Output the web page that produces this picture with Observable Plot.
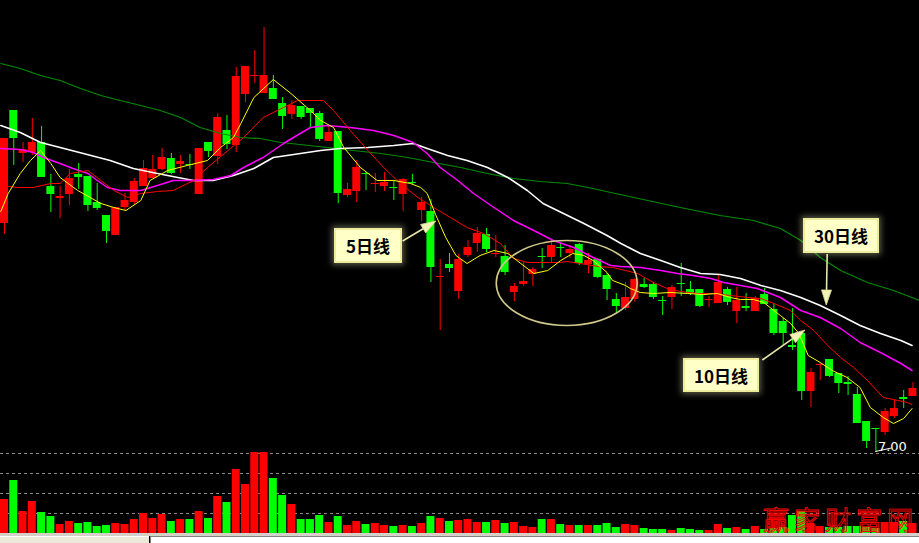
<!DOCTYPE html>
<html><head><meta charset="utf-8">
<script src="https://cdn.jsdelivr.net/npm/d3@7"></script>
<script src="https://cdn.jsdelivr.net/npm/@observablehq/plot@0.6"></script>
<style>
html,body{margin:0;padding:0;background:#000;}
#wrap{position:relative;width:919px;height:543px;background:#000;overflow:hidden;font-family:"Noto Sans CJK SC","Noto Sans",sans-serif;}
#price{position:absolute;left:0;top:0;}
#vol{position:absolute;left:0;top:452px;}
.note{position:absolute;background:#ffffc8;border:2px solid #ecec9c;box-shadow:0 0 6px 2px rgba(255,255,200,0.35);color:#000;font-weight:bold;font-size:17px;display:flex;align-items:center;justify-content:center;box-sizing:border-box;font-family:"Noto Sans CJK SC",sans-serif;}
#wm{position:absolute;left:763px;top:500px;font-size:26px;letter-spacing:5px;color:transparent;-webkit-text-stroke:0.9px #ff0000;font-family:"Noto Sans CJK SC",sans-serif;white-space:nowrap;}
</style></head>
<body>
<div id="wrap">
  <div id="price"></div>
  <div id="vol"></div>
  <div class="note" style="left:334px;top:228px;width:68px;height:35px;">5日线</div>
  <div class="note" style="left:683px;top:358px;width:76px;height:34px;">10日线</div>
  <div class="note" style="left:803px;top:218px;width:76px;height:35px;">30日线</div>
  <div id="wm">赢家财富网</div>
  <div style="position:absolute;left:0;top:533px;width:919px;height:3px;background:#d4d0c8"></div>
  <div style="position:absolute;left:0;top:536px;width:149px;height:7px;background:#ece9d8;border-top:1px solid #fff"></div>
  <div style="position:absolute;left:150px;top:536px;width:769px;height:7px;background:#fff;border-top:1px solid #808080;border-left:1px solid #808080"></div>
</div>
<script>
// ---- candle data (day index 0..98) ----
const open = [9.29,10.42,9.99,10.00,10.10,9.66,9.54,9.58,9.78,9.76,
 9.50,9.37,9.17,9.45,9.50,9.66,9.74,9.83,9.94,9.88,
 9.88,9.58,10.10,9.96,10.22,10.07,10.58,10.76,10.59,10.64,
 10.49,10.38,10.46,10.44,10.39,10.11,10.21,9.57,9.61,9.79,
 9.68,9.66,9.65,9.58,9.70,9.42,9.41,8.75,8.88,8.61,
 8.97,9.09,9.18,8.98,8.96,8.60,8.68,8.78,8.96,8.95,
 9.05,8.99,9.08,8.88,8.93,8.77,8.53,8.44,8.53,8.68,
 8.68,8.52,8.55,8.69,8.63,8.63,8.52,8.49,8.63,8.41,
 8.46,8.41,8.58,8.43,8.31,8.07,8.19,7.61,7.87,7.93,
 7.79,7.70,7.58,7.31,7.24,7.20,7.36,7.55,7.56];
const high = [10.14,10.42,10.10,10.34,10.26,9.78,9.66,9.83,9.89,9.76,
 9.69,9.37,9.45,9.59,9.74,9.92,9.97,10.04,9.99,9.97,
 9.98,10.04,10.10,10.39,10.37,10.85,10.86,11.02,11.25,10.77,
 10.55,10.52,10.46,10.44,10.41,10.27,10.21,9.69,9.92,9.80,
 9.79,9.80,9.72,9.74,9.78,9.55,9.53,8.93,8.99,8.98,
 9.12,9.25,9.24,9.17,9.07,8.69,8.90,8.85,9.04,9.13,
 9.09,9.07,9.09,8.99,8.94,8.79,8.59,8.70,8.74,8.74,
 8.70,8.56,8.67,8.89,8.71,8.63,8.56,8.77,8.65,8.65,
 8.59,8.56,8.64,8.49,8.34,8.44,8.19,7.84,7.89,7.93,
 7.79,7.76,7.65,7.31,7.24,7.44,7.53,7.62,7.70];
const low = [9.18,9.87,9.90,9.97,9.75,9.40,9.34,9.47,9.63,9.41,
 9.42,9.09,9.17,9.42,9.47,9.66,9.74,9.82,9.78,9.79,
 9.83,9.58,9.95,9.88,10.03,10.00,10.50,10.69,10.59,10.53,
 10.23,10.33,10.33,10.25,10.11,10.11,9.49,9.55,9.50,9.62,
 9.60,9.61,9.52,9.41,9.68,9.31,8.70,8.22,8.80,8.53,
 8.95,9.00,9.00,8.95,8.77,8.51,8.66,8.66,8.84,8.89,
 8.95,8.94,8.87,8.79,8.74,8.52,8.39,8.42,8.50,8.64,
 8.53,8.37,8.43,8.56,8.57,8.45,8.45,8.49,8.47,8.29,
 8.41,8.41,8.48,8.17,8.07,8.02,7.52,7.45,7.72,7.75,
 7.59,7.57,7.29,7.04,7.00,7.17,7.34,7.44,7.56];
const close = [10.14,10.14,10.03,10.10,9.75,9.58,9.56,9.74,9.75,9.47,
 9.44,9.21,9.45,9.52,9.71,9.84,9.83,9.95,9.79,9.91,
 9.87,10.04,10.01,10.35,10.08,10.76,10.86,10.77,10.77,10.53,
 10.36,10.47,10.35,10.39,10.13,10.20,9.59,9.63,9.85,9.78,
 9.69,9.70,9.64,9.73,9.69,9.50,8.85,8.76,8.84,8.93,
 9.05,9.19,9.03,8.99,8.80,8.66,8.71,8.83,8.95,9.07,
 9.04,9.03,8.89,8.92,8.75,8.63,8.46,8.55,8.73,8.65,
 8.55,8.51,8.65,8.68,8.59,8.46,8.53,8.70,8.50,8.52,
 8.44,8.54,8.48,8.19,8.19,8.05,7.61,7.80,7.88,7.76,
 7.69,7.68,7.29,7.11,7.23,7.41,7.44,7.53,7.64];
const volume = [102,159,66,96,63,51,27,36,30,33,
 21,24,30,27,42,60,45,57,36,42,
 42,66,45,111,93,192,147,243,243,165,
 114,87,42,42,54,33,51,24,36,27,
 30,24,21,24,21,30,51,45,36,39,
 42,33,33,39,30,33,21,18,42,42,
 27,24,24,24,24,30,18,27,24,15,
 12,12,9,15,12,9,9,27,15,18,
 12,21,12,15,18,54,66,30,21,18,
 18,21,21,18,15,33,33,36,30];
const volumeTicks = [60,120,180,240];

// ---- moving averages: [day, price] ----
const ma5 = [[-0.4,9.41],[0.4,9.59],[1.7,9.79],[2.8,9.92],[3.9,10.02],[5.0,9.89],[6.0,9.75],[7.9,9.62],[10.4,9.49],[11.8,9.45],[13.1,9.42],[14.7,9.52],[15.7,9.72],[17.6,9.82],[19.7,9.87],[21.9,9.92],[23.3,10.05],[24.7,10.15],[25.5,10.29],[26.9,10.55],[29.0,10.73],[30.9,10.59],[33.0,10.42],[34.1,10.32],[35.5,10.25],[36.6,10.05],[38.4,9.85],[40.2,9.72],[42.0,9.72],[43.8,9.69],[44.9,9.65],[45.6,9.59],[46.5,9.38],[47.6,9.15],[48.7,8.97],[49.9,8.89],[51.3,8.97],[52.8,9.02],[54.3,8.99],[55.7,8.89],[57.1,8.79],[58.6,8.82],[60.0,8.92],[61.3,8.99],[62.5,8.97],[63.5,8.92],[65.0,8.80],[65.6,8.72],[67.0,8.67],[67.5,8.64],[68.6,8.60],[70.0,8.59],[71.8,8.60],[73.7,8.59],[75.4,8.58],[76.9,8.59],[78.3,8.55],[79.4,8.53],[80.8,8.53],[81.9,8.50],[83.0,8.42],[83.7,8.37],[84.8,8.29],[85.7,8.19],[86.7,7.97],[88.0,7.90],[89.3,7.82],[90.9,7.75],[92.3,7.65],[93.4,7.45],[94.8,7.35],[95.9,7.29],[97.0,7.34],[97.9,7.44]];
const ma10 = [[-0.4,9.67],[1.4,9.65],[3.1,9.65],[5.0,9.69],[6.0,9.69],[7.1,9.79],[9.0,9.82],[10.4,9.72],[11.8,9.62],[13.3,9.55],[14.7,9.59],[16.5,9.61],[18.2,9.62],[20.4,9.72],[21.9,9.85],[24.1,10.02],[25.8,10.15],[27.9,10.35],[30.1,10.45],[31.6,10.52],[34.4,10.52],[35.5,10.42],[37.3,10.22],[39.2,10.02],[40.9,9.85],[42.7,9.69],[44.6,9.55],[46.3,9.45],[48.1,9.35],[49.9,9.25],[51.7,9.19],[53.5,9.09],[54.9,8.94],[56.4,8.90],[59.8,8.90],[60.7,8.91],[62.1,8.89],[64.1,8.86],[65.6,8.85],[67.0,8.82],[68.3,8.79],[70.0,8.70],[71.5,8.64],[72.9,8.61],[74.8,8.59],[76.5,8.59],[78.3,8.57],[80.2,8.55],[81.6,8.54],[83.0,8.49],[84.8,8.42],[85.9,8.32],[87.3,8.22],[88.8,8.07],[90.2,7.95],[91.6,7.85],[93.1,7.72],[94.8,7.55],[95.9,7.53],[97.4,7.50],[97.9,7.48]];
const ma20 = [[-0.4,10.04],[1.7,10.03],[3.1,10.00],[4.2,9.95],[6.0,9.89],[7.4,9.84],[9.0,9.79],[10.0,9.72],[11.1,9.65],[12.5,9.62],[14.7,9.62],[16.5,9.67],[18.2,9.72],[20.4,9.72],[22.5,9.73],[24.4,9.77],[25.8,9.85],[27.9,9.95],[30.1,10.09],[31.9,10.19],[33.0,10.25],[34.8,10.27],[37.3,10.25],[39.8,10.22],[42.0,10.17],[44.1,10.10],[45.6,9.99],[47.0,9.85],[48.9,9.72],[50.6,9.59],[52.8,9.45],[54.9,9.32],[57.1,9.22],[59.2,9.12],[61.4,9.05],[63.5,8.95],[65.4,8.87],[66.5,8.86],[68.6,8.85],[70.8,8.82],[72.6,8.79],[74.3,8.77],[76.2,8.74],[77.6,8.70],[79.4,8.67],[81.2,8.64],[82.6,8.59],[83.7,8.55],[85.9,8.42],[88.0,8.35],[90.2,8.24],[92.3,8.10],[94.5,8.00],[96.7,7.89],[97.9,7.82]];
const ma30 = [[-0.4,10.27],[1.7,10.20],[3.9,10.10],[6.0,10.05],[8.5,9.99],[11.4,9.92],[13.9,9.84],[16.5,9.79],[18.7,9.75],[20.4,9.72],[22.5,9.72],[24.7,9.77],[26.9,9.84],[29.0,9.95],[31.2,9.98],[34.1,10.02],[36.2,10.04],[39.2,10.05],[42.0,10.07],[44.1,10.09],[45.6,10.04],[47.8,9.97],[49.9,9.92],[52.1,9.85],[54.3,9.75],[56.4,9.62],[58.1,9.49],[60.3,9.39],[62.5,9.29],[65.0,9.17],[66.5,9.09],[68.6,8.99],[70.8,8.92],[72.9,8.85],[75.1,8.79],[77.2,8.78],[79.4,8.74],[81.6,8.67],[83.7,8.62],[85.9,8.55],[88.0,8.47],[90.2,8.37],[92.3,8.27],[94.5,8.19],[96.7,8.12],[97.9,8.07]];
const ma60 = [[-0.4,10.89],[1.7,10.84],[3.9,10.77],[6.0,10.72],[8.2,10.64],[10.4,10.57],[12.5,10.52],[14.7,10.47],[16.8,10.42],[19.0,10.35],[21.1,10.25],[23.3,10.19],[25.5,10.15],[27.6,10.14],[29.8,10.10],[31.9,10.08],[34.8,10.05],[37.6,10.02],[40.6,9.99],[43.5,9.95],[46.3,9.90],[49.2,9.85],[52.1,9.79],[54.9,9.74],[57.8,9.71],[60.7,9.69],[63.5,9.64],[65.4,9.60],[69.4,9.52],[72.9,9.45],[77.2,9.37],[80.8,9.32],[83.7,9.24],[85.9,9.12],[88.0,8.95],[90.2,8.82],[93.1,8.70],[95.9,8.62],[97.9,8.55],[98.7,8.52]];

// ---- annotations in data coordinates ----
const arrows = [
  {from:[43.0,9.11], to:[46.6,9.31]},   // 5日线
  {from:[81.8,7.92], to:[86.4,8.22]},   // 10日线
  {from:[88.8,8.98], to:[88.7,8.47]}    // 30日线
];
const circled = {day:60.7, price:8.69, rDays:7.6, rPrice:0.425};

const RED = "#ff0000", GREEN = "#00ff00";
const candles = open.map((o,i)=>({i, open:o, high:high[i], low:low[i], close:close[i], volume:volume[i], up: close[i] >= o}));
const xOpt = {domain:[0,98], range:[4,912.46], axis:null};

const price = Plot.plot({
  width:919, height:452, margin:0,
  x:xOpt,
  y:{domain:[7.00,11.52], range:[452,0], axis:null},
  color:{type:"identity"},
  style:{background:"transparent", overflow:"visible"},
  marks:[
    Plot.ruleX(candles,{x:"i", y1:"low", y2:"high", stroke:d=>d.up?RED:GREEN, strokeWidth:1}),
    Plot.rect(candles,{x1:d=>d.i-0.43, x2:d=>d.i+0.43, y1:"open", y2:"close", fill:d=>d.up?RED:GREEN}),
    Plot.line(ma60,{x:d=>d[0], y:d=>d[1], stroke:"#008c00", strokeWidth:1.2, clip:true}),
    Plot.line(ma30,{x:d=>d[0], y:d=>d[1], stroke:"#ffffff", strokeWidth:1.6, clip:true}),
    Plot.line(ma20,{x:d=>d[0], y:d=>d[1], stroke:"#ff00ff", strokeWidth:1.5, clip:true}),
    Plot.line(ma10,{x:d=>d[0], y:d=>d[1], stroke:"#ff0000", strokeWidth:1, clip:true}),
    Plot.line(ma5,{x:d=>d[0], y:d=>d[1], stroke:"#ffff00", strokeWidth:1, clip:true})
  ]
});
document.getElementById("price").appendChild(price);

const sx = price.scale("x"), sy = price.scale("y");
const g = d3.select(price).append("g");
g.append("ellipse")
  .attr("cx", sx.apply(circled.day)).attr("cy", sy.apply(circled.price))
  .attr("rx", sx.apply(circled.day+circled.rDays)-sx.apply(circled.day))
  .attr("ry", sy.apply(circled.price-circled.rPrice)-sy.apply(circled.price))
  .attr("fill","none").attr("stroke","#cfc88a").attr("stroke-width",1.6);
for (const a of arrows) {
  const x1=sx.apply(a.from[0]), y1=sy.apply(a.from[1]), x2=sx.apply(a.to[0]), y2=sy.apply(a.to[1]);
  const dx=x2-x1, dy=y2-y1, L=Math.hypot(dx,dy), ux=dx/L, uy=dy/L;
  const hl=15, hw=5;
  const bx=x2-ux*hl, by=y2-uy*hl;
  g.append("line").attr("x1",x1).attr("y1",y1).attr("x2",bx).attr("y2",by)
    .attr("stroke","#e6e6a8").attr("stroke-width",1.6);
  g.append("path").attr("d",`M${x2},${y2}L${bx-uy*hw},${by+ux*hw}L${bx+uy*hw},${by-ux*hw}Z`)
    .attr("fill","#f2f2b8").attr("stroke","#d8d890").attr("stroke-width",0.8);
}
const iMin = d3.minIndex(low);
const mx = sx.apply(iMin), my = sy.apply(low[iMin]);
g.append("line").attr("x1",mx).attr("y1",my-0.5).attr("x2",mx+16).attr("y2",my-4).attr("stroke","#fff").attr("stroke-width",1);
g.append("text").attr("x",mx+17).attr("y",my-1).attr("fill","#fff")
  .attr("font-family","DejaVu Sans, sans-serif").attr("font-size",13).text(low[iMin].toFixed(2));

const vol = Plot.plot({
  width:919, height:82, margin:0,
  x:xOpt,
  y:{domain:[0,243], range:[81,0], axis:null},
  color:{type:"identity"},
  style:{background:"transparent", overflow:"visible"},
  marks:[
    Plot.ruleY(volumeTicks,{stroke:"#8a8a8a", strokeDasharray:"3,3", strokeWidth:1}),
    Plot.rect(candles,{x1:d=>d.i-0.43, x2:d=>d.i+0.43, y1:0, y2:"volume", fill:d=>d.up?RED:GREEN})
  ]
});
document.getElementById("vol").appendChild(vol);
</script>
</body></html>
